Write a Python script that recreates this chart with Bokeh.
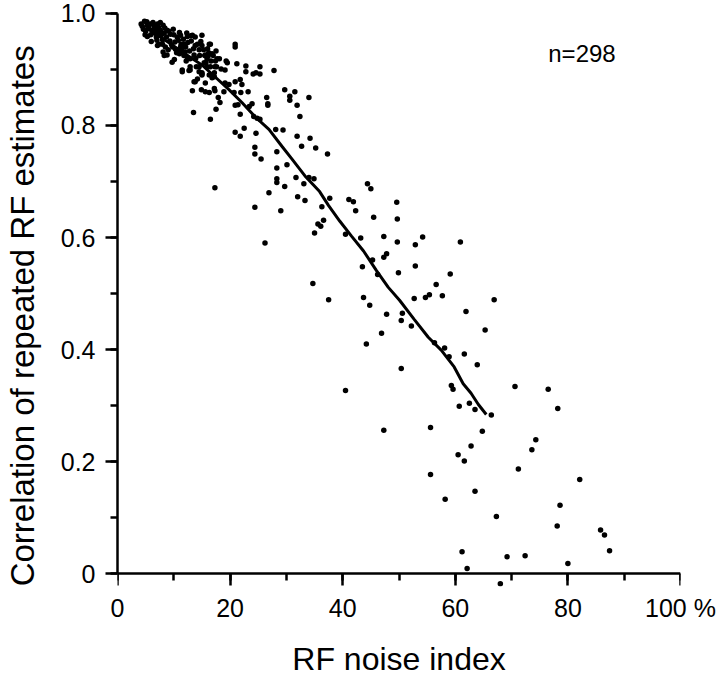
from bokeh.plotting import figure
from bokeh.models import Range1d, SingleIntervalTicker, Label, ColumnDataSource, LinearAxis, CustomJSTickFormatter
from bokeh.embed import file_html
from bokeh.resources import INLINE

# ---- data ----
noise_lower = [56.6, 52.7, 54.7, 55.4, 57.7, 66.9, 50.6, 50.4, 61.9, 52.2, 65.3, 56.3, 58.1, 58.9, 61.6,
               63.9, 50.4, 59.3, 59.6, 70.6, 76.5, 60.7, 62.5, 63.5, 66.4, 78.2, 55.6, 64.8, 74.3, 73.6,
               62.8, 60.5, 61.6, 71.2, 55.6, 82.1, 63.5, 58.2, 78.6, 67.3, 78.1, 85.8, 86.5, 87.4, 61.2,
               69.2, 72.4, 80.0, 62.1, 68.0]
corr_lower = [0.516, 0.491, 0.493, 0.498, 0.496, 0.489, 0.465, 0.452, 0.468, 0.442, 0.435, 0.412, 0.403, 0.387, 0.392,
              0.373, 0.366, 0.336, 0.329, 0.334, 0.329, 0.299, 0.304, 0.293, 0.283, 0.295, 0.261, 0.254, 0.239, 0.221,
              0.228, 0.212, 0.201, 0.187, 0.177, 0.168, 0.147, 0.133, 0.122, 0.102, 0.085, 0.078, 0.069, 0.041, 0.039,
              0.030, 0.032, 0.018, 0.009, -0.018]

noise_mid = [24.4, 25.5, 28.3, 35.2, 37.3, 28.3, 30.1, 28.3, 28.3, 29.7, 31.7, 33.1, 34.0, 34.9, 26.9,
             32.0, 33.3, 24.4, 29.0, 37.7, 36.3, 41.1, 41.9, 42.3, 44.4, 45.0, 49.6, 45.5, 49.7, 36.6,
             35.6, 36.1, 35.0, 26.2, 40.5, 43.2, 47.3, 49.7, 54.2, 52.9, 60.9, 47.8, 47.3, 45.3, 43.5,
             52.9, 46.2, 49.9, 59.1, 34.7, 37.5, 43.7, 44.8, 47.8, 46.9, 44.2, 40.5, 47.3, 17.3]
corr_mid = [0.749, 0.740, 0.753, 0.760, 0.749, 0.724, 0.730, 0.705, 0.698, 0.691, 0.707, 0.696, 0.707, 0.705, 0.680,
            0.673, 0.666, 0.654, 0.648, 0.670, 0.655, 0.668, 0.664, 0.648, 0.696, 0.687, 0.663, 0.636, 0.633, 0.631,
            0.624, 0.620, 0.608, 0.590, 0.606, 0.599, 0.602, 0.592, 0.601, 0.587, 0.592, 0.571, 0.565, 0.560, 0.548,
            0.549, 0.534, 0.537, 0.535, 0.518, 0.489, 0.493, 0.479, 0.463, 0.429, 0.410, 0.327, 0.256, 0.689]

noise_upper = [16.5, 20.9, 20.9, 17.5, 15.6, 16.1, 17.7, 19.3, 19.5, 21.2, 15.4, 15.9, 18.4, 19.1, 22.8,
               22.8, 24.1, 24.6, 25.3, 25.3, 27.8, 15.0, 17.2, 16.8, 19.1, 19.8, 20.9, 21.8, 22.1, 16.3,
               15.6, 17.3, 17.9, 18.9, 20.7, 21.9, 23.2, 29.7, 31.5, 30.6, 30.6, 34.0, 26.5, 26.7, 26.7,
               31.9, 18.2, 17.5, 20.9, 21.4, 23.9, 23.4, 21.8, 24.2, 24.8, 25.3, 16.5, 32.4, 20.9, 21.8,
               22.5, 24.6, 28.1, 29.4, 31.9, 34.2, 32.7, 24.4, 13.5, 13.3, 14.9, 14.5, 13.8, 12.9, 12.7,
               11.5, 15.0, 15.6]
corr_upper = [0.945, 0.945, 0.940, 0.933, 0.926, 0.924, 0.919, 0.915, 0.912, 0.910, 0.912, 0.905, 0.901, 0.899, 0.906,
              0.896, 0.892, 0.894, 0.905, 0.892, 0.898, 0.894, 0.894, 0.885, 0.876, 0.873, 0.878, 0.882, 0.873, 0.859,
              0.860, 0.862, 0.850, 0.860, 0.859, 0.859, 0.860, 0.864, 0.860, 0.852, 0.845, 0.850, 0.850, 0.839, 0.836,
              0.836, 0.841, 0.829, 0.836, 0.837, 0.839, 0.834, 0.820, 0.816, 0.813, 0.811, 0.811, 0.816, 0.788, 0.781,
              0.795, 0.786, 0.793, 0.792, 0.781, 0.777, 0.763, 0.761, 0.823, 0.862, 0.864, 0.896, 0.878, 0.905, 0.898,
              0.899, 0.890, 0.876]

noise_cluster = [4.8, 4.4, 5.3, 5.8, 6.5, 7.1, 7.6, 8.1, 5.3, 6.2, 7.1, 7.6, 8.3, 8.8, 9.4,
                 9.9, 10.6, 11.2, 12.4, 13.3, 13.8, 15.0, 7.1, 8.0, 8.5, 8.1, 8.8, 9.7, 10.3, 11.2,
                 11.9, 11.0, 12.0, 12.4, 12.9, 13.6, 14.5, 13.8, 15.0, 16.3, 16.8, 15.9, 11.5, 12.9, 14.5,
                 14.2, 15.0, 16.3, 17.2, 17.3, 18.1, 13.6, 17.2,
                 4.2, 4.6, 5.0, 5.5, 5.9, 6.3, 6.7, 6.9, 7.3, 7.8, 8.0, 8.4, 8.7, 9.1, 9.3,
                 9.6, 10.0, 10.2, 10.5, 10.8, 11.0, 11.4, 11.7, 12.1, 12.5, 12.8, 13.1, 13.5, 13.9, 14.2,
                 14.6, 15.3, 15.7, 16.0, 16.6, 17.0, 17.6, 16.5, 17.4, 12.3, 14.8, 13.0, 9.8, 7.0, 6.0,
                 7.4, 9.0, 5.2, 4.9, 6.6, 12.2, 14.0, 16.2, 11.3, 11.8, 8.3, 10.1, 15.5]
corr_cluster = [0.986, 0.977, 0.979, 0.981, 0.977, 0.981, 0.984, 0.979, 0.959, 0.970, 0.966, 0.970, 0.965, 0.970, 0.963,
                0.972, 0.958, 0.961, 0.959, 0.961, 0.958, 0.961, 0.943, 0.945, 0.940, 0.931, 0.926, 0.913, 0.936, 0.940,
                0.945, 0.928, 0.931, 0.922, 0.919, 0.926, 0.935, 0.943, 0.943, 0.945, 0.928, 0.919, 0.896, 0.899, 0.905,
                0.883, 0.892, 0.890, 0.887, 0.905, 0.919, 0.878, 0.866,
                0.981, 0.972, 0.968, 0.975, 0.962, 0.984, 0.973, 0.958, 0.975, 0.962, 0.953, 0.974, 0.958, 0.968, 0.951,
                0.944, 0.962, 0.949, 0.930, 0.952, 0.966, 0.935, 0.954, 0.940, 0.948, 0.933, 0.951, 0.937, 0.920, 0.945,
                0.925, 0.935, 0.912, 0.937, 0.915, 0.925, 0.905, 0.905, 0.915, 0.965, 0.950, 0.960, 0.940, 0.952, 0.950,
                0.945, 0.935, 0.985, 0.962, 0.965, 0.915, 0.905, 0.930, 0.945, 0.925, 0.925, 0.918, 0.925]

# running average curve
avg_noise = [5.0, 8.5, 11.5, 15.0, 17.3, 19.8, 22.1, 24.4, 26.9, 29.2, 31.0, 33.3, 35.9, 37.5, 39.5,
             41.6, 43.7, 46.0, 48.1, 50.1, 52.7, 55.2, 57.5, 59.8, 61.4, 62.8, 64.1, 65.5]
avg_corr = [0.975, 0.952, 0.931, 0.908, 0.887, 0.864, 0.841, 0.816, 0.793, 0.763, 0.740, 0.710, 0.682, 0.657, 0.629,
            0.602, 0.576, 0.541, 0.511, 0.488, 0.454, 0.422, 0.399, 0.369, 0.339, 0.322, 0.302, 0.284]

x_ticks_interval = 20
y_ticks_interval = 0.2
x_label_overrides = {100: "100 %"}
y_label_overrides = {0: "0", 1: "1.0"}
x_title = "RF noise index"
y_title = "Correlation of repeated RF estimates"
n_label = "n=298"

FONT = "Liberation Sans"

xs = noise_lower + noise_mid + noise_upper + noise_cluster
ys = corr_lower + corr_mid + corr_upper + corr_cluster
src = ColumnDataSource(dict(x=xs, y=ys))

p = figure(width=720, height=679, output_backend="svg", toolbar_location=None, title=None,
           x_range=Range1d(0, 100), y_range=Range1d(-0.02297, 1.00883),
           min_border_left=115, min_border_right=40, min_border_top=8, min_border_bottom=87)
p.grid.visible = False
p.outline_line_color = None
p.background_fill_color = "white"
p.border_fill_color = "white"

p.scatter("x", "y", source=src, size=5.5, fill_color="black", line_color=None)
p.line(avg_noise, avg_corr, line_color="black", line_width=3)


def style_lines(ax):
    ax.axis_line_width = 2.5
    ax.major_tick_line_width = 2.5
    ax.minor_tick_line_width = 2.5
    ax.major_tick_out = 12
    ax.major_tick_in = 0
    ax.minor_tick_out = 7
    ax.minor_tick_in = 0


def style_text(ax):
    ax.major_label_text_font = FONT
    ax.major_label_text_font_size = "25px"
    ax.major_label_text_color = "black"
    ax.axis_label_text_font = FONT
    ax.axis_label_text_font_style = "normal"
    ax.axis_label_text_color = "black"


# x axis line + ticks drawn at y = 0 (labels come from a second axis)
xa = p.xaxis[0]
style_lines(xa)
xa.fixed_location = 0
xa.ticker = SingleIntervalTicker(interval=x_ticks_interval, num_minor_ticks=2)
xa.bounds = (0, 100)
xa.formatter = CustomJSTickFormatter(code="return ''")

# x tick labels and axis label
xl = LinearAxis(ticker=SingleIntervalTicker(interval=x_ticks_interval, num_minor_ticks=2))
style_text(xl)
xl.axis_line_color = None
xl.major_tick_line_color = None
xl.minor_tick_line_color = None
xl.major_tick_out = 0
xl.major_tick_in = 0
xl.minor_tick_out = 0
xl.minor_tick_in = 0
xl.bounds = (0, 100)
xl.major_label_overrides = x_label_overrides
xl.major_label_standoff = 7
xl.axis_label = x_title
xl.axis_label_text_font_size = "32px"
xl.axis_label_standoff = 16
p.add_layout(xl, "below")

# y axis (ticks, tick labels, title; trailing no-break spaces nudge the title
# slightly below centre as in the original)
ya = p.yaxis[0]
style_lines(ya)
style_text(ya)
ya.ticker = SingleIntervalTicker(interval=y_ticks_interval, num_minor_ticks=2)
ya.bounds = (0, 1)
ya.major_label_overrides = y_label_overrides
ya.major_label_standoff = 10
ya.axis_label = y_title + "\u00a0" * 4
ya.axis_label_text_font_size = "33px"
ya.axis_label_standoff = 17

p.add_layout(Label(x=82.5, y=0.929, text=n_label, text_font=FONT, text_font_size="24px",
                   text_align="center", text_baseline="middle", text_color="black"))

open("out.html", "w").write(file_html(p, INLINE))
